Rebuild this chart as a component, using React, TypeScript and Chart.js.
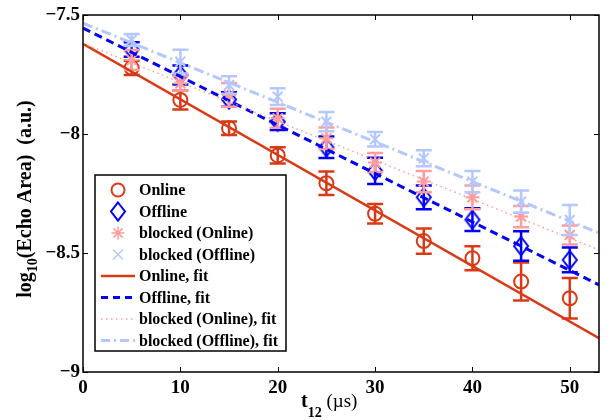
import React, { useEffect, useRef } from "react";
import { Chart, registerables } from "chart.js";

Chart.register(...registerables);

// ---- data ----
const tValues = [5, 10, 15, 20, 25, 30, 35, 40, 45, 50];

const online = [-7.722, -7.857, -7.976, -8.09, -8.207, -8.335, -8.45, -8.522, -8.62, -8.69];
const onlineErr = [0.03, 0.04, 0.028, 0.034, 0.049, 0.041, 0.053, 0.05, 0.08, 0.085];

const offline = [-7.645, -7.752, -7.855, -7.948, -8.056, -8.155, -8.266, -8.36, -8.471, -8.529];
const offlineErr = [0.03, 0.04, 0.03, 0.035, 0.045, 0.055, 0.05, 0.048, 0.062, 0.052];

const blockedOnline = [-7.689, -7.787, -7.836, -7.934, -8.018, -8.12, -8.2, -8.266, -8.347, -8.424];
const blockedOnlineErr = [0.042, 0.03, 0.05, 0.04, 0.045, 0.04, 0.045, 0.05, 0.045, 0.04];

const blockedOffline = [-7.605, -7.696, -7.794, -7.843, -7.948, -8.022, -8.102, -8.2, -8.284, -8.361];
const blockedOfflineErr = [0.025, 0.05, 0.037, 0.035, 0.04, 0.03, 0.034, 0.045, 0.047, 0.063];

// fit lines: values at the two ends of the x range
const fitX = [0, 53];
const onlineFit = [-7.621, -8.858];
const offlineFit = [-7.555, -8.634];
const blockedOnlineFit = [-7.619, -8.487];
const blockedOfflineFit = [-7.534, -8.416];

const xTicks = [0, 10, 20, 30, 40, 50];
const yTicks = [-9, -8.5, -8, -7.5];
const xRange = [0, 53];
const yRange = [-9, -7.5];

const legendLabels = [
  "Online",
  "Offline",
  "blocked (Online)",
  "blocked (Offline)",
  "Online, fit",
  "Offline, fit",
  "blocked (Online), fit",
  "blocked (Offline), fit",
];

// ---- styles ----
const RED = "#d93a16";
const BLUE = "#0000f5";
const PINK = "#ff9c9c";
const LBLUE = "#b4c8ff";
const FONT = "'Liberation Serif', 'Times New Roman', serif";

function makeDiamond(color: string) {
  const c = document.createElement("canvas");
  c.width = 18;
  c.height = 22;
  const g = c.getContext("2d")!;
  g.strokeStyle = color;
  g.lineWidth = 2;
  g.beginPath();
  g.moveTo(9, 2);
  g.lineTo(16, 11);
  g.lineTo(9, 20);
  g.lineTo(2, 11);
  g.closePath();
  g.stroke();
  return c;
}

function pts(xs: number[], ys: number[]) {
  return xs.map((x, i) => ({ x, y: ys[i] }));
}

function fmtTick(v: number) {
  return (v < 0 ? "\u2212" : "") + String(Math.abs(v));
}

function drawMarker(ctx: CanvasRenderingContext2D, kind: string, x: number, y: number, color: string) {
  ctx.save();
  ctx.strokeStyle = color;
  ctx.beginPath();
  if (kind === "circle") {
    ctx.lineWidth = 2;
    ctx.arc(x, y, 6.5, 0, Math.PI * 2);
  } else if (kind === "diamond") {
    ctx.lineWidth = 2;
    ctx.moveTo(x, y - 9);
    ctx.lineTo(x + 7, y);
    ctx.lineTo(x, y + 9);
    ctx.lineTo(x - 7, y);
    ctx.closePath();
  } else if (kind === "star") {
    ctx.lineWidth = 1.5;
    const r = 6.5;
    for (let k = 0; k < 4; k++) {
      const a = (k * Math.PI) / 4;
      ctx.moveTo(x - r * Math.cos(a), y - r * Math.sin(a));
      ctx.lineTo(x + r * Math.cos(a), y + r * Math.sin(a));
    }
  } else if (kind === "x") {
    ctx.lineWidth = 1.5;
    const r = 5;
    ctx.moveTo(x - r, y - r);
    ctx.lineTo(x + r, y + r);
    ctx.moveTo(x - r, y + r);
    ctx.lineTo(x + r, y - r);
  }
  ctx.stroke();
  ctx.restore();
}

const errorBarPlugin = {
  id: "errorBars",
  afterDatasetDraw(chart: any, args: any) {
    const ds = chart.data.datasets[args.index];
    if (!ds.errors) return;
    const ctx = chart.ctx;
    const xs = chart.scales.x;
    const ys = chart.scales.y;
    ctx.save();
    ctx.strokeStyle = ds.borderColor;
    ctx.lineWidth = 2.5;
    ds.data.forEach((p: any, i: number) => {
      const e = ds.errors[i];
      const px = xs.getPixelForValue(p.x);
      const top = ys.getPixelForValue(p.y + e);
      const bot = ys.getPixelForValue(p.y - e);
      ctx.beginPath();
      ctx.moveTo(px, top);
      ctx.lineTo(px, bot);
      ctx.moveTo(px - 8, top);
      ctx.lineTo(px + 8, top);
      ctx.moveTo(px - 8, bot);
      ctx.lineTo(px + 8, bot);
      ctx.stroke();
    });
    ctx.restore();
  },
};

const framePlugin = {
  id: "frame",
  afterDraw(chart: any) {
    const ctx = chart.ctx;
    const a = chart.chartArea;
    const xs = chart.scales.x;
    const ys = chart.scales.y;
    ctx.save();
    ctx.strokeStyle = "#000";
    ctx.lineWidth = 1.5;
    ctx.strokeRect(a.left, a.top, a.right - a.left, a.bottom - a.top);
    ctx.lineWidth = 1;
    const L = 5;
    ctx.beginPath();
    xTicks.forEach((v) => {
      const px = Math.round(xs.getPixelForValue(v)) + 0.5;
      ctx.moveTo(px, a.bottom);
      ctx.lineTo(px, a.bottom - L);
      ctx.moveTo(px, a.top);
      ctx.lineTo(px, a.top + L);
    });
    yTicks.forEach((v) => {
      const py = Math.round(ys.getPixelForValue(v)) + 0.5;
      ctx.moveTo(a.left, py);
      ctx.lineTo(a.left + L, py);
      ctx.moveTo(a.right, py);
      ctx.lineTo(a.right - L, py);
    });
    ctx.stroke();
    ctx.restore();
  },
};

const legendPlugin = {
  id: "customLegend",
  afterDraw(chart: any) {
    const ctx = chart.ctx;
    const bx = 95, by = 175, bw = 191, bh = 176;
    ctx.save();
    ctx.fillStyle = "#fff";
    ctx.fillRect(bx, by, bw, bh);
    ctx.strokeStyle = "#000";
    ctx.lineWidth = 1.5;
    ctx.strokeRect(bx, by, bw, bh);
    const rowH = 21.5;
    const y0 = by + 15;
    const kinds = [
      { t: "m", k: "circle", c: RED },
      { t: "m", k: "diamond", c: BLUE },
      { t: "m", k: "star", c: PINK },
      { t: "m", k: "x", c: LBLUE },
      { t: "l", dash: [], w: 2.5, c: RED },
      { t: "l", dash: [7, 5], w: 3, c: BLUE },
      { t: "l", dash: [1.5, 3.5], w: 1.5, c: PINK },
      { t: "l", dash: [9, 4, 2, 4], w: 3, c: LBLUE },
    ];
    ctx.font = `bold 16px ${FONT}`;
    ctx.textBaseline = "middle";
    ctx.fillStyle = "#000";
    legendLabels.forEach((lab, i) => {
      const y = y0 + i * rowH;
      const it: any = kinds[i];
      if (it.t === "m") {
        drawMarker(ctx, it.k, 118, y, it.c);
      } else {
        ctx.save();
        ctx.strokeStyle = it.c;
        ctx.lineWidth = it.w;
        ctx.setLineDash(it.dash);
        ctx.beginPath();
        ctx.moveTo(101, y);
        ctx.lineTo(135, y);
        ctx.stroke();
        ctx.restore();
      }
      ctx.fillText(lab, 139, y + 1);
    });
    ctx.restore();
  },
};

const titlePlugin = {
  id: "axisTitles",
  afterDraw(chart: any) {
    const ctx = chart.ctx;
    ctx.save();
    ctx.fillStyle = "#000";
    ctx.textBaseline = "alphabetic";
    // y title
    const big = `bold 20px ${FONT}`;
    const small = `bold 14px ${FONT}`;
    const parts = [
      { s: "log", f: big, dy: 0 },
      { s: "10", f: small, dy: 6 },
      { s: "(Echo Area)  (a.u.)", f: big, dy: 0 },
    ];
    let W = 0;
    parts.forEach((p) => {
      ctx.font = p.f;
      W += ctx.measureText(p.s).width;
    });
    ctx.translate(31, 199);
    ctx.rotate(-Math.PI / 2);
    let x = -W / 2;
    parts.forEach((p) => {
      ctx.font = p.f;
      ctx.fillText(p.s, x, p.dy);
      x += ctx.measureText(p.s).width;
    });
    ctx.restore();

    // x title
    ctx.save();
    ctx.fillStyle = "#000";
    ctx.textBaseline = "alphabetic";
    let xx = 301;
    ctx.font = `bold 20px ${FONT}`;
    ctx.fillText("t", xx, 407);
    xx += ctx.measureText("t").width;
    ctx.font = `bold 14px ${FONT}`;
    ctx.fillText("12", xx, 417);
    xx += ctx.measureText("12").width;
    ctx.font = `19px ${FONT}`;
    ctx.fillText(" (\u00b5s)", xx, 407);
    ctx.restore();
  },
};

export default function App() {
  const ref = useRef<HTMLCanvasElement | null>(null);

  useEffect(() => {
    document.body.style.margin = "0";
    const canvas = ref.current!;
    const diamond = makeDiamond(BLUE);

    const pointSet = (label: string, ys: number[], errs: number[], color: string, style: any, radius: number, bw: number, order: number) => ({
      type: "scatter" as const,
      label,
      data: pts(tValues, ys),
      errors: errs,
      borderColor: color,
      backgroundColor: "rgba(0,0,0,0)",
      pointStyle: style,
      pointRadius: radius,
      pointBorderWidth: bw,
      showLine: false,
      order,
    });

    const fitSet = (label: string, ys: number[], color: string, dash: number[], w: number, order: number) => ({
      type: "line" as const,
      label,
      data: pts(fitX, ys),
      borderColor: color,
      backgroundColor: color,
      borderWidth: w,
      borderDash: dash,
      pointRadius: 0,
      fill: false,
      tension: 0,
      order,
    });

    const chart = new Chart(canvas, {
      type: "scatter",
      data: {
        datasets: [
          pointSet(legendLabels[0], online, onlineErr, RED, "circle", 7, 2, 10),
          pointSet(legendLabels[1], offline, offlineErr, BLUE, diamond, 9, 2, 9),
          pointSet(legendLabels[2], blockedOnline, blockedOnlineErr, PINK, "star", 7, 2, 8),
          pointSet(legendLabels[3], blockedOffline, blockedOfflineErr, LBLUE, "crossRot", 7, 2, 7),
          fitSet(legendLabels[4], onlineFit, RED, [], 2.5, 6),
          fitSet(legendLabels[5], offlineFit, BLUE, [8, 5], 3, 5),
          fitSet(legendLabels[6], blockedOnlineFit, PINK, [1.5, 3.5], 1.5, 4),
          fitSet(legendLabels[7], blockedOfflineFit, LBLUE, [10, 4, 2, 4], 3, 3),
        ] as any,
      },
      options: {
        animation: false,
        responsive: false,
        maintainAspectRatio: false,
        layout: { padding: { top: 15, right: 7, left: 0, bottom: 0 } },
        plugins: {
          legend: { display: false },
          tooltip: { enabled: false },
          title: { display: false },
        },
        scales: {
          x: {
            type: "linear",
            min: xRange[0],
            max: xRange[1],
            grid: { display: false, drawTicks: false },
            border: { display: false },
            ticks: {
              color: "#000",
              padding: 5,
              maxRotation: 0,
              autoSkip: false,
              font: { family: FONT, size: 19, weight: "bold" },
            },
            afterBuildTicks: (s: any) => {
              s.ticks = xTicks.map((v) => ({ value: v }));
            },
            afterFit: (s: any) => {
              s.height = 48;
            },
          },
          y: {
            type: "linear",
            min: yRange[0],
            max: yRange[1],
            grid: { display: false, drawTicks: false },
            border: { display: false },
            ticks: {
              color: "#000",
              padding: 3,
              autoSkip: false,
              font: { family: FONT, size: 19, weight: "bold" },
              callback: (v: any) => fmtTick(Number(v)),
            },
            afterBuildTicks: (s: any) => {
              s.ticks = yTicks.map((v) => ({ value: v }));
            },
            afterFit: (s: any) => {
              s.width = 83;
            },
          },
        },
      } as any,
      plugins: [errorBarPlugin, framePlugin, legendPlugin, titlePlugin],
    });

    return () => chart.destroy();
  }, []);

  return (
    <div style={{ width: 610, height: 420, background: "#fff" }}>
      <canvas ref={ref} width={610} height={420} style={{ display: "block" }} />
    </div>
  );
}
